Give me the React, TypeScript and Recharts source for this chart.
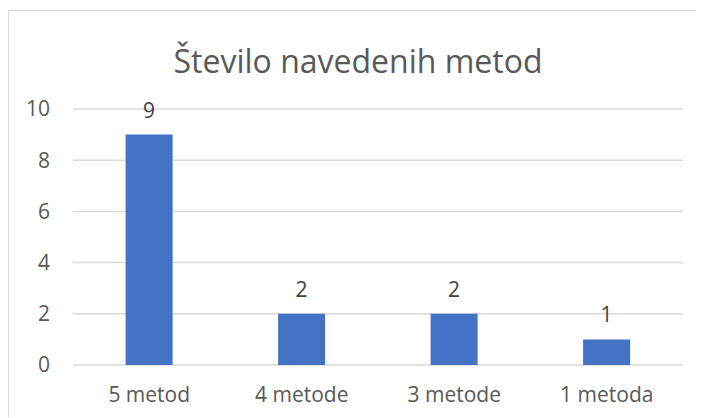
import React from "react";
import { BarChart, Bar, XAxis, YAxis, CartesianGrid, LabelList } from "recharts";

const categories = ["5 metod", "4 metode", "3 metode", "1 metoda"];
const counts = [9, 2, 2, 1];
const yTicks = [0, 2, 4, 6, 8, 10];
const title = "Število navedenih metod";

const data = categories.map((c, i) => ({ name: c, value: counts[i] }));

const FONT = "'Open Sans', sans-serif";
const TEXT = "#595959";

export default function App() {
  return (
    <div
      style={{
        position: "relative",
        top: 2,
        width: 695,
        height: 408,
        borderLeft: "1px solid #d9d9d9",
        borderTop: "1px solid #d9d9d9",
        background: "#fff",
        fontFamily: FONT,
      }}
    >
      <div
        style={{
          position: "absolute",
          left: 149,
          top: 33.6,
          width: 400,
          textAlign: "center",
          fontSize: 32,
          lineHeight: "32px",
          color: TEXT,
          fontFamily: FONT,
        }}
      >
        {title}
      </div>
      <BarChart
        width={694}
        height={407}
        data={data}
        margin={{ top: 98, right: 20, left: 0, bottom: 20 }}
        barCategoryGap="34.5%"
      >
        <CartesianGrid vertical={false} stroke="#d9d9d9" strokeWidth={1.5} />
        <XAxis
          dataKey="name"
          height={33}
          axisLine={false}
          tickLine={false}
          tickSize={0}
          tickMargin={22}
          tick={{ fill: TEXT, fontSize: 21, fontFamily: FONT }}
        />
        <YAxis
          width={64}
          domain={[0, 10]}
          ticks={yTicks}
          axisLine={false}
          tickLine={false}
          tickSize={0}
          tickMargin={23}
          tick={{ fill: TEXT, fontSize: 21, fontFamily: FONT }}
        />
        <Bar dataKey="value" fill="#4472C4" isAnimationActive={false}>
          <LabelList
            dataKey="value"
            position="top"
            offset={17}
            fill="#404040"
            fontSize={21}
            fontFamily={FONT}
          />
        </Bar>
      </BarChart>
    </div>
  );
}
